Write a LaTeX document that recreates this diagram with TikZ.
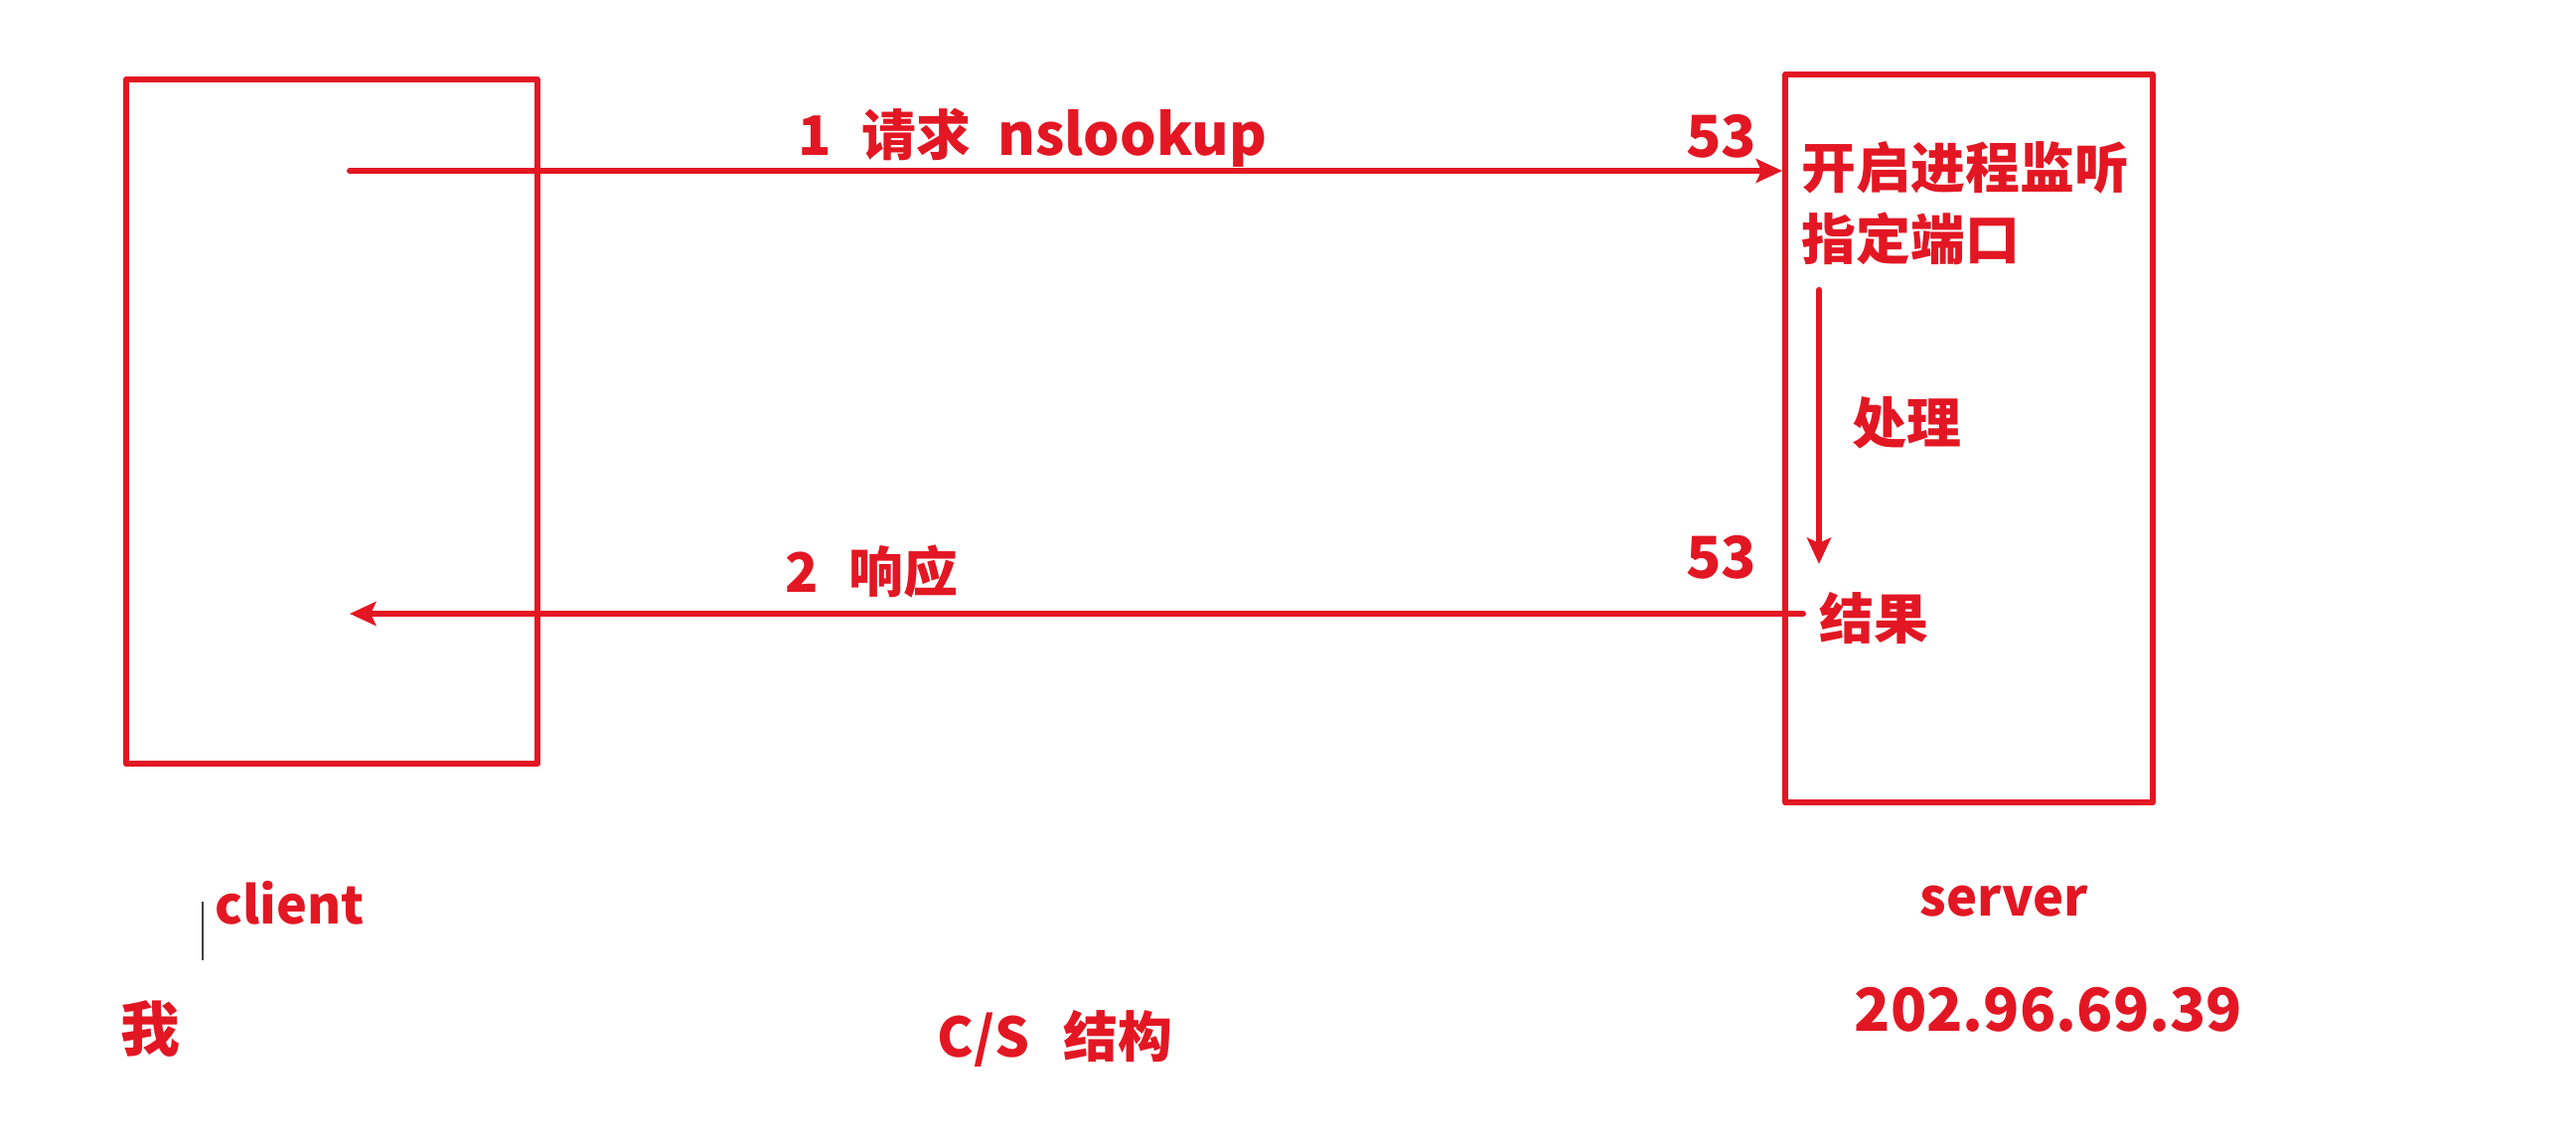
\documentclass[tikz,border=0pt]{standalone}
\usepackage{fontspec}
\setmainfont{Noto Sans CJK SC}
\usetikzlibrary{arrows.meta}
\definecolor{csred}{RGB}{226,23,35}
\tikzset{
  box/.style={draw=csred, line width=1.6pt, line join=round, inner sep=0pt},
  flow/.style={csred, line width=1.7pt, line cap=round, ->},
  lbl/.style={text=csred, font=\fontsize{15.6pt}{18pt}\selectfont\bfseries, inner sep=0pt},
  big/.style={text=csred, font=\fontsize{17pt}{20pt}\selectfont\bfseries, inner sep=0pt},
}
\begin{document}
\begin{tikzpicture}[x=0.01cm, y=-0.01cm, >={Stealth[length=7.5pt,width=6.8pt,inset=1.5pt]}]
\useasboundingbox (0,0) rectangle (2593,1148);
\node[box, minimum width=4.14cm, minimum height=6.89cm](client) at (334,424.5){};
\node[box, minimum width=3.70cm, minimum height=7.33cm](server) at (1982,441.5){};
\coordinate (reqS) at (352,172);
\coordinate (resE) at (352,618);
\coordinate (resS) at (1815,618);
\coordinate (procS) at (1831,292);
\coordinate (procE) at (1831,568);
\draw[flow](reqS)--(reqS -| server.west);
\draw[flow](resS)--(resE);
\draw[flow](procS)--(procE);
\node[lbl, anchor=base west](req) at (803,156){1\hspace{0.55em}请求\hspace{0.5em}{\fontsize{16.4pt}{18pt}\selectfont nslookup}};
\node[lbl, font=\fontsize{16.6pt}{20pt}\selectfont\bfseries, anchor=base east](portA) at (1769,158){53};
\node[lbl, anchor=base west](listenA) at (1813,189){开启进程监听};
\node[lbl, anchor=base west](listenB) at (1813,261){指定端口};
\node[lbl, anchor=base west](proc) at (1864,446){处理};
\node[lbl, font=\fontsize{16.6pt}{20pt}\selectfont\bfseries, anchor=base east](portB) at (1769,582){53};
\node[lbl, anchor=base west](result) at (1831,643){结果};
\node[lbl, anchor=base west](res) at (790,596){2\hspace{0.55em}响应};
\node[lbl, font=\fontsize{14.8pt}{18pt}\selectfont\bfseries, anchor=base west](cname) at (216,930){client};
\node[big, anchor=base west](me) at (121,1058){我};
\node[lbl, anchor=base west](cs) at (943,1064){C/S\hspace{0.62em}结构};
\node[lbl, font=\fontsize{14.9pt}{18pt}\selectfont\bfseries, anchor=base west](sname) at (1932,922){server};
\node[big, anchor=base west](ip) at (1866,1038){202.96.69.39};
\draw[black!75, line width=0.8pt](204,908)--(204,967);
\end{tikzpicture}
\end{document}
